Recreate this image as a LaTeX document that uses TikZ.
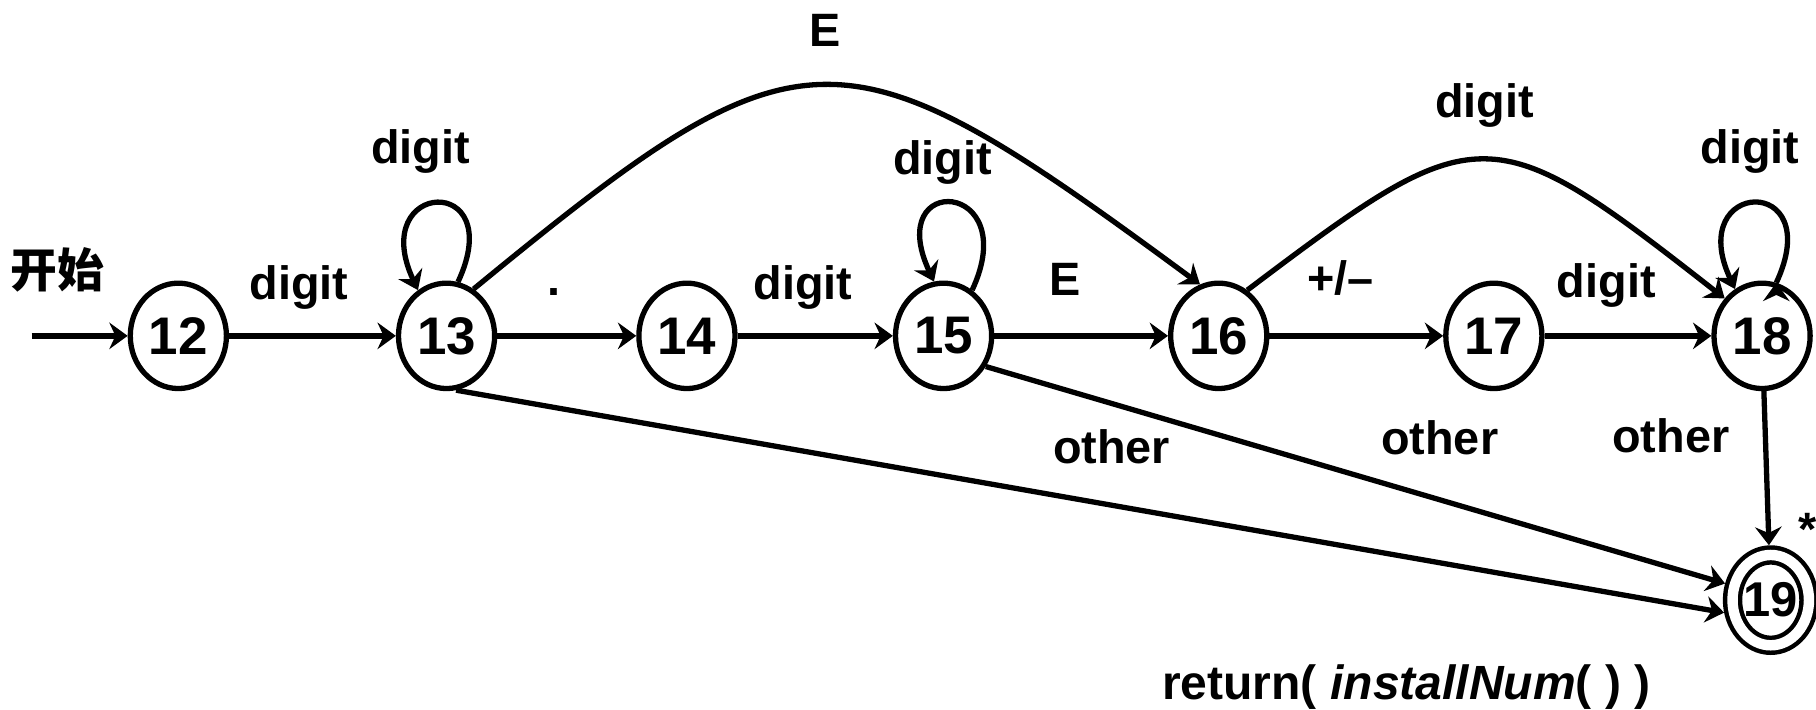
\documentclass[tikz,border=0pt]{standalone}
\usepackage{fontspec}
\setmainfont{Liberation Sans}
\newfontfamily\cjk{Noto Sans CJK SC}
\usetikzlibrary{shapes,positioning,arrows.meta}

\begin{document}
\begin{tikzpicture}[line width=1.3pt, >={Stealth[length=4.5pt,width=6.5pt,inset=1.5pt]},
	state/.style={draw, ellipse, minimum width=0.83cm, minimum height=0.91cm, inner sep=-2pt, font=\fontsize{13}{15}\selectfont\bfseries},
	final/.style={state, line width=1.1pt, double, double distance=0.09cm, minimum width=0.66cm, minimum height=0.78cm, outer sep=0.084cm, inner sep=-4pt, font=\fontsize{12}{14}\selectfont\bfseries},
	lbl/.style={font=\fontsize{11.5}{13}\selectfont\bfseries, inner sep=2pt, text height=8.5pt, text depth=2.5pt},
	loopy/.style={out=65, in=115, distance=1.05cm}]
	\useasboundingbox (0,0) rectangle (15.68,-6.13);

	\node[state] (S12) at (1.54,-2.90) {12};
	\node[state, right=1.44cm of S12] (S13) {13};
	\node[state, right=1.20cm of S13] (S14) {14};
	\node[state, right=1.34cm of S14] (S15) {15};
	\node[state, right=1.50cm of S15] (S16) {16};
	\node[state, right=1.50cm of S16] (S17) {17};
	\node[state, right=1.44cm of S17] (S18) {18};
	\node[final, below=1.33cm of S18, xshift=0.075cm] (S19) {19};
	\coordinate[left=0.83cm of S12.west] (Start);

	\node[lbl] (Star) at ([xshift=3.2mm, yshift=5.8mm]S19.center) {*};
	\node[lbl, font=\fontsize{11.8}{14}\selectfont\bfseries, anchor=base east] (Return) at ([xshift=-9.45mm, yshift=-8.6mm]S19.center) {return( \textit{installNum}( ) )};

	\draw[->] (Start) -- node[lbl, pos=0.27, above=2.4mm] {\cjk 开始} (S12);
	\draw[->] (S12) edge node[lbl, pos=0.42, above=1.3mm] {digit} (S13)
		(S13) edge node[lbl, pos=0.41, above=1.7mm] {.} (S14)
		(S14) edge node[lbl, pos=0.42, above=1.3mm] {digit} (S15)
		(S15) edge node[lbl, pos=0.41, above=1.7mm] {E} (S16)
		(S16) edge node[lbl, pos=0.41, above=1.8mm] {+/–} (S17)
		(S17) edge node[lbl, pos=0.37, above=1.5mm] {digit} (S18);

	% self loops
	\draw[->] (S13.78) edge[loopy] node[lbl, above=1.6mm, xshift=-1.5mm] {digit} (S13.122)
		(S15.58) edge[loopy] node[lbl, above=0.7mm, xshift=-0.9mm] {digit} (S15.100)
		(S18.75) edge[loopy] node[lbl, above=1.6mm, xshift=-0.5mm] {digit} (S18.120);

	% arcs over the top
	\draw[->] (S13.60) .. controls +(2.85,2.34) and +(-3.12,2.30) .. (S16.110) node[lbl, pos=0.5, above=1.5mm] {E};
	\draw[->] (S16.58) .. controls +(2.0,1.51) and +(-2.03,1.59) .. (S18.135) node[lbl, pos=0.5, above=1.8mm] {digit};

	% into the final state
	\draw[->] (S13.-80) -- node[lbl, pos=0.517, above=1.8mm] {other} (S19.195);
	\draw[->] (S15.-36) -- node[lbl, pos=0.614, above=2.1mm] {other} (S19.160);
	\draw[->] (S18) -- node[lbl, pos=0.32, left=2.2mm] {other} (S19);
\end{tikzpicture}
\end{document}
